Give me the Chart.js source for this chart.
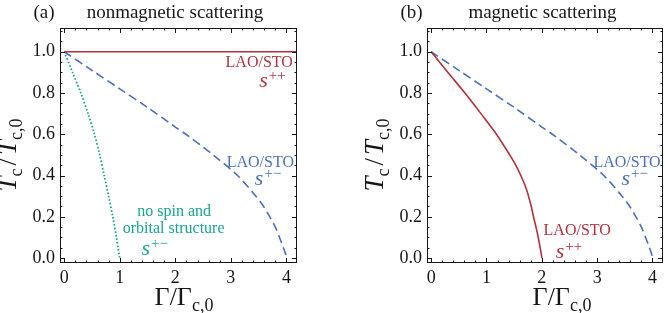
<!DOCTYPE html>
<html>
<head>
<meta charset="utf-8">
<script src="https://cdn.jsdelivr.net/npm/chart.js@4.4.1/dist/chart.umd.min.js"></script>
<style>
  body { margin: 0; background: #fff; }
  #wrap { position: relative; width: 665px; height: 313px; }
  .panel { position: absolute; top: 0; }
</style>
</head>
<body>
<div id="wrap">
  <div class="panel" style="left:0"><canvas id="chartA" width="332" height="313"></canvas></div>
  <div class="panel" style="left:332px"><canvas id="chartB" width="333" height="313"></canvas></div>
</div>
<script>
const FONT = '"Liberation Serif", "DejaVu Serif", serif';
const RED = '#b3303d', BLUE = '#4b6fbd', TEAL = '#17a58e', INK = '#161616';

const xTickValues = [0, 1, 2, 3, 4];
const yTickValues = [0.0, 0.2, 0.4, 0.6, 0.8, 1.0];

// (a) nonmagnetic scattering
const nmSppGamma = [0, 4.19];
const nmSppTc = [1.0, 1.0];
const nmSpmGamma = [0, 0.5, 1.0, 1.5, 2.0, 2.19, 2.68, 3.12, 3.45, 3.59, 3.70, 3.80, 3.875, 3.945, 3.985, 4.0];
const nmSpmTc    = [1.0, 0.91, 0.82, 0.73, 0.635, 0.6, 0.5, 0.4, 0.3, 0.25, 0.2, 0.15, 0.1, 0.05, 0.02, 0.0];
const nmPlainGamma = [0, 0.15, 0.30, 0.43, 0.545, 0.64, 0.72, 0.80, 0.875, 0.94, 0.97, 1.0];
const nmPlainTc    = [1.0, 0.9, 0.8, 0.7, 0.6, 0.5, 0.4, 0.3, 0.2, 0.1, 0.05, 0.0];

// (b) magnetic scattering
const mSppGamma = [0, 0.30, 0.61, 0.90, 1.18, 1.42, 1.53, 1.62, 1.70, 1.76, 1.81, 1.85, 1.895, 1.935, 1.97, 1.99, 2.0];
const mSppTc    = [1.0, 0.9, 0.8, 0.7, 0.6, 0.5, 0.45, 0.4, 0.35, 0.3, 0.25, 0.2, 0.15, 0.1, 0.05, 0.02, 0.0];
const mSpmGamma = [0, 0.5, 1.0, 1.5, 2.0, 2.19, 2.68, 3.12, 3.45, 3.59, 3.70, 3.80, 3.875, 3.945, 3.985, 4.0];
const mSpmTc    = [1.0, 0.91, 0.82, 0.73, 0.635, 0.6, 0.5, 0.4, 0.3, 0.25, 0.2, 0.15, 0.1, 0.05, 0.02, 0.0];

const pts = (xs, ys) => xs.map((x, i) => ({ x: x, y: ys[i] }));

// text made of pieces: [text, kind] kind = 'r' roman, 'i' italic, 'sub', 'sup', 'gap'
function richText(ctx, parts, x, y, size, color, align) {
  const fontOf = k => {
    if (k === 'i') return 'italic ' + size + 'px ' + FONT;
    if (k === 'sub' || k === 'sup') return Math.round(size * 0.68) + 'px ' + FONT;
    return size + 'px ' + FONT;
  };
  const widths = parts.map(([t, k]) => {
    if (k === 'gap') return t;
    ctx.font = fontOf(k);
    return ctx.measureText(t).width;
  });
  const total = widths.reduce((s, w) => s + w, 0);
  let cx = align === 'center' ? x - total / 2 : (align === 'right' ? x - total : x);
  ctx.fillStyle = color;
  ctx.textBaseline = 'alphabetic';
  ctx.textAlign = 'left';
  parts.forEach(([t, k], i) => {
    if (k !== 'gap') {
      ctx.font = fontOf(k);
      let dy = 0;
      if (k === 'sub') dy = size * 0.22;
      if (k === 'sup') dy = -size * 0.3;
      ctx.fillText(t, cx, y + dy);
    }
    cx += widths[i];
  });
}

const decorations = {
  id: 'decorations',
  afterDraw(chart, args, o) {
    const { ctx, chartArea: a, scales: { x, y } } = chart;
    ctx.save();
    // frame and inward ticks on every side
    ctx.strokeStyle = INK;
    ctx.lineWidth = 1;
    ctx.strokeRect(a.left + 0.5, a.top + 0.5, a.right - a.left - 1, a.bottom - a.top - 1);
    ctx.beginPath();
    for (let v = 0; v <= 4.19; v += 0.2) {
      const px = Math.round(x.getPixelForValue(v)) + 0.5;
      const major = Math.abs(v - Math.round(v)) < 1e-6;
      const len = major ? 5 : 2.5;
      ctx.moveTo(px, a.bottom); ctx.lineTo(px, a.bottom - len);
      ctx.moveTo(px, a.top); ctx.lineTo(px, a.top + len);
    }
    for (let v = 0; v <= 1.115; v += 0.05) {
      const py = Math.round(y.getPixelForValue(v)) + 0.5;
      const major = Math.abs(v * 5 - Math.round(v * 5)) < 1e-6;
      const len = major ? 5 : 2.5;
      ctx.moveTo(a.left, py); ctx.lineTo(a.left + len, py);
      ctx.moveTo(a.right, py); ctx.lineTo(a.right - len, py);
    }
    ctx.stroke();

    // panel heading
    richText(ctx, [[o.tag, 'r']], o.tagX, 18, 19, INK, 'center');
    richText(ctx, [[o.title, 'r']], o.titleX, 18, 19, INK, 'center');

    // axis titles
    richText(ctx, [['Γ', 'r'], ['/', 'r'], ['Γ', 'r'], ['c,0', 'sub']],
      o.xTitleX, 305, 26, INK, 'center');
    ctx.save();
    ctx.translate(a.left - 44, 155);
    ctx.rotate(-Math.PI / 2);
    richText(ctx, [['T', 'i'], ['c', 'sub'], [3, 'gap'], ['/', 'r'], [3, 'gap'], ['T', 'i'], ['c,0', 'sub']],
      0, 0, 27, INK, 'center');
    ctx.restore();

    // curve labels, anchored in data units
    o.labels.forEach(l => {
      const px = x.getPixelForValue(l.at[0]);
      const py = y.getPixelForValue(l.at[1]);
      if (l.sup) {
        richText(ctx, [['s', 'i'], [1, 'gap'], [l.sup, 'sup']], px, py, 22, l.color, 'center');
      } else {
        richText(ctx, [[l.text, 'r']], px, py, 16, l.color, 'center');
      }
    });
    ctx.restore();
  }
};

function line(data, color, dash, width) {
  return {
    data: data, showLine: true, borderColor: color, borderWidth: width || 1.6,
    borderDash: dash || [], pointRadius: 0, tension: 0.3, fill: false
  };
}

function makeChart(id, datasets, padLeft, padRight, deco) {
  return new Chart(document.getElementById(id), {
    type: 'scatter',
    data: { datasets: datasets },
    plugins: [decorations],
    options: {
      responsive: false,
      animation: false,
      events: [],
      layout: { padding: { left: padLeft, right: padRight, top: 28, bottom: 0 } },
      plugins: { legend: { display: false }, tooltip: { enabled: false }, decorations: deco },
      scales: {
        x: {
          type: 'linear', min: -0.075, max: 4.19,
          grid: { display: false, drawTicks: false }, border: { display: false },
          afterBuildTicks: s => { s.ticks = xTickValues.map(v => ({ value: v })); },
          afterFit: s => { s.height = 50; },
          ticks: { padding: 4, autoSkip: false, maxRotation: 0, color: INK,
            font: { family: FONT, size: 18 }, callback: v => String(v) }
        },
        y: {
          type: 'linear', min: -0.024, max: 1.115,
          grid: { display: false, drawTicks: false }, border: { display: false },
          afterBuildTicks: s => { s.ticks = yTickValues.map(v => ({ value: v })); },
          afterFit: s => { s.width = 60; },
          ticks: { padding: 5, autoSkip: false, color: INK,
            font: { family: FONT, size: 18 }, callback: v => Number(v).toFixed(1) }
        }
      }
    }
  });
}

makeChart('chartA', [
  line(pts(nmSppGamma, nmSppTc), RED),
  line(pts(nmSpmGamma, nmSpmTc), BLUE, [8.5, 4.5]),
  line(pts(nmPlainGamma, nmPlainTc), TEAL, [1.6, 2], 1.8)
], 0, 35, {
  tag: '(a)', tagX: 44, title: 'nonmagnetic scattering', titleX: 175, xTitleX: 184,
  labels: [
    { text: 'LAO/STO', at: [3.51, 0.926], color: RED },
    { sup: '++', at: [3.75, 0.829], color: RED },
    { text: 'LAO/STO', at: [3.53, 0.443], color: BLUE },
    { sup: '+−', at: [3.67, 0.355], color: BLUE },
    { text: 'no spin and', at: [1.98, 0.205], color: TEAL },
    { text: 'orbital structure', at: [1.97, 0.123], color: TEAL },
    { sup: '+−', at: [1.63, 0.016], color: TEAL }
  ]
});

makeChart('chartB', [
  line(pts(mSppGamma, mSppTc), RED),
  line(pts(mSpmGamma, mSpmTc), BLUE, [8.5, 4.5])
], 35, 2, {
  tag: '(b)', tagX: 79.5, title: 'magnetic scattering', titleX: 210.5, xTitleX: 230,
  labels: [
    { text: 'LAO/STO', at: [3.54, 0.443], color: BLUE },
    { sup: '+−', at: [3.68, 0.355], color: BLUE },
    { text: 'LAO/STO', at: [2.64, 0.113], color: RED },
    { sup: '++', at: [2.49, 0.002], color: RED }
  ]
});
</script>
</body>
</html>
